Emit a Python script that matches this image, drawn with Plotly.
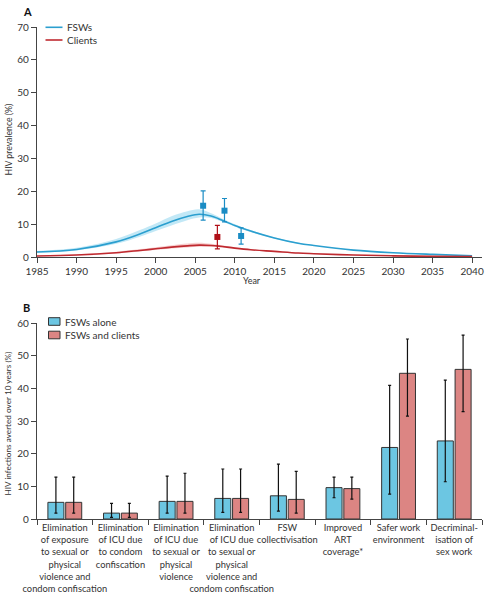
import plotly.graph_objects as go

# ---------------- Panel A data ----------------
years = [1985, 1990, 1995, 1998, 2000, 2002, 2004, 2005.5, 2007, 2008, 2010, 2012, 2015, 2018, 2020, 2025, 2030, 2035, 2040]
fsw_mid = [1.5, 2.3, 4.6, 7.0, 8.9, 10.8, 12.3, 13.0, 12.5, 11.6, 9.6, 7.9, 5.8, 4.2, 3.5, 2.1, 1.3, 0.8, 0.4]
fsw_hi = [1.8, 2.8, 5.5, 8.2, 10.2, 12.4, 13.9, 14.5, 13.3, 12.2, 10.0, 8.2, 6.0, 4.4, 3.6, 2.2, 1.35, 0.85, 0.45]
fsw_lo = [1.3, 2.0, 4.0, 6.2, 7.9, 9.6, 11.2, 12.0, 11.9, 11.1, 9.3, 7.6, 5.6, 4.0, 3.4, 2.0, 1.25, 0.75, 0.35]
cli_mid = [0.3, 0.6, 1.3, 2.0, 2.5, 3.0, 3.4, 3.6, 3.5, 3.3, 2.7, 2.2, 1.7, 1.2, 1.0, 0.6, 0.35, 0.2, 0.1]
cli_hi = [0.4, 0.8, 1.6, 2.4, 3.0, 3.6, 4.1, 4.3, 4.0, 3.7, 2.9, 2.4, 1.8, 1.3, 1.05, 0.65, 0.4, 0.25, 0.15]
cli_lo = [0.2, 0.5, 1.1, 1.7, 2.1, 2.6, 2.9, 3.1, 3.1, 3.0, 2.5, 2.1, 1.6, 1.1, 0.95, 0.55, 0.3, 0.15, 0.05]

fsw_obs_x = [2006.0, 2008.7, 2010.8]
fsw_obs_y = [15.6, 14.1, 6.4]
fsw_obs_hi = [20.1, 17.8, 8.9]
fsw_obs_lo = [11.2, 10.7, 3.9]
cli_obs_x = [2007.8]
cli_obs_y = [6.1]
cli_obs_hi = [9.6]
cli_obs_lo = [2.5]

series_a_names = ["FSWs", "Clients"]

# ---------------- Panel B data ----------------
categories = [
    "Elimination<br>of exposure<br>to sexual or<br>physical<br>violence and<br>condom confiscation",
    "Elimination<br>of ICU due<br>to condom<br>confiscation",
    "Elimination<br>of ICU due<br>to sexual or<br>physical<br>violence",
    "Elimination<br>of ICU due<br>to sexual or<br>physical<br>violence and<br>condom confiscation",
    "FSW<br>collectivisation",
    "Improved<br>ART<br>coverage*",
    "Safer work<br>environment",
    "Decriminal-<br>isation of<br>sex work",
]
alone_val = [5.1, 1.8, 5.4, 6.3, 7.1, 9.6, 21.9, 23.9]
alone_hi = [12.8, 4.8, 13.1, 15.3, 16.8, 12.8, 40.9, 42.5]
alone_lo = [1.8, 0.5, 1.8, 2.0, 2.4, 6.5, 7.6, 11.4]
both_val = [5.1, 1.8, 5.4, 6.3, 6.0, 9.3, 44.6, 45.8]
both_hi = [12.8, 4.8, 14.0, 15.3, 14.6, 12.8, 55.1, 56.3]
both_lo = [1.8, 0.5, 1.8, 2.0, 1.8, 6.1, 31.5, 32.9]

series_b_names = ["FSWs alone", "FSWs and clients"]

W, H = 486, 600
FONT = "Lato, 'Open Sans', sans-serif"
TXT = "#333333"
AX = "#444444"

BLUE_LINE = "#2b9fcf"
RED_LINE = "#bf2a30"
BLUE_PT = "#1a8cc4"
RED_PT = "#b01018"
BLUE_BAR = "#6cc6e2"
RED_BAR = "#dc8583"


def px(x):
    return x / W


def py(y):
    return 1 - y / H


fig = go.Figure()

# bands
fig.add_trace(go.Scatter(x=years, y=fsw_hi, mode="lines", line=dict(width=0, shape="spline"),
                         showlegend=False, hoverinfo="skip", xaxis="x", yaxis="y"))
fig.add_trace(go.Scatter(x=years, y=fsw_lo, mode="lines", line=dict(width=0, shape="spline"),
                         fill="tonexty", fillcolor="rgba(120,205,235,0.45)",
                         showlegend=False, hoverinfo="skip", xaxis="x", yaxis="y"))
fig.add_trace(go.Scatter(x=years, y=cli_hi, mode="lines", line=dict(width=0, shape="spline"),
                         showlegend=False, hoverinfo="skip", xaxis="x", yaxis="y"))
fig.add_trace(go.Scatter(x=years, y=cli_lo, mode="lines", line=dict(width=0, shape="spline"),
                         fill="tonexty", fillcolor="rgba(240,150,150,0.45)",
                         showlegend=False, hoverinfo="skip", xaxis="x", yaxis="y"))
# lines
fig.add_trace(go.Scatter(x=years, y=fsw_mid, mode="lines", name=series_a_names[0],
                         line=dict(color=BLUE_LINE, width=1.6, shape="spline"),
                         showlegend=False, xaxis="x", yaxis="y"))
fig.add_trace(go.Scatter(x=years, y=cli_mid, mode="lines", name=series_a_names[1],
                         line=dict(color=RED_LINE, width=1.6, shape="spline"),
                         showlegend=False, xaxis="x", yaxis="y"))
# observed points
fig.add_trace(go.Scatter(
    x=fsw_obs_x, y=fsw_obs_y, mode="markers", showlegend=False,
    marker=dict(symbol="square", size=6, color=BLUE_PT),
    error_y=dict(type="data", symmetric=False,
                 array=[h - v for h, v in zip(fsw_obs_hi, fsw_obs_y)],
                 arrayminus=[v - l for l, v in zip(fsw_obs_lo, fsw_obs_y)],
                 color=BLUE_PT, thickness=1.2, width=2.5),
    xaxis="x", yaxis="y"))
fig.add_trace(go.Scatter(
    x=cli_obs_x, y=cli_obs_y, mode="markers", showlegend=False,
    marker=dict(symbol="square", size=6, color=RED_PT),
    error_y=dict(type="data", symmetric=False,
                 array=[h - v for h, v in zip(cli_obs_hi, cli_obs_y)],
                 arrayminus=[v - l for l, v in zip(cli_obs_lo, cli_obs_y)],
                 color=RED_PT, thickness=1.2, width=2.5),
    xaxis="x", yaxis="y"))

# bars
fig.add_trace(go.Bar(
    x=categories, y=alone_val, name=series_b_names[0], showlegend=False,
    marker=dict(color=BLUE_BAR, line=dict(color="#333333", width=1)),
    error_y=dict(type="data", symmetric=False,
                 array=[h - v for h, v in zip(alone_hi, alone_val)],
                 arrayminus=[v - l for l, v in zip(alone_lo, alone_val)],
                 color="#111111", thickness=1.2, width=1.5),
    xaxis="x2", yaxis="y2"))
fig.add_trace(go.Bar(
    x=categories, y=both_val, name=series_b_names[1], showlegend=False,
    marker=dict(color=RED_BAR, line=dict(color="#333333", width=1)),
    error_y=dict(type="data", symmetric=False,
                 array=[h - v for h, v in zip(both_hi, both_val)],
                 arrayminus=[v - l for l, v in zip(both_lo, both_val)],
                 color="#111111", thickness=1.2, width=1.5),
    xaxis="x2", yaxis="y2"))


def axis_style(font_size=10):
    return dict(showline=True, linecolor=AX, linewidth=1.2, ticks="outside",
                tickcolor=AX, ticklen=5, tickwidth=1.2, showgrid=False, zeroline=False,
                automargin=False, tickangle=0,
                tickfont=dict(family=FONT, size=font_size, color=TXT))


# manual legends (swatches + labels)
shapes = []
annotations = []
leg_a_colors = [BLUE_LINE, RED_LINE]
leg_a_y = [27.3, 40.0]
for name, col, yy in zip(series_a_names, leg_a_colors, leg_a_y):
    shapes.append(dict(type="line", xref="paper", yref="paper",
                       x0=px(45.5), x1=px(62.5), y0=py(yy), y1=py(yy),
                       line=dict(color=col, width=1.6)))
    annotations.append(dict(text=name, x=px(64.5), y=py(yy), xref="paper", yref="paper",
                            showarrow=False, xanchor="left", yanchor="middle",
                            font=dict(family=FONT, size=10, color=TXT)))
leg_b_colors = [BLUE_BAR, RED_BAR]
leg_b_y = [321.5, 335.0]
for name, col, yy in zip(series_b_names, leg_b_colors, leg_b_y):
    shapes.append(dict(type="rect", xref="paper", yref="paper",
                       x0=px(48.5), x1=px(60), y0=py(yy - 3.8), y1=py(yy + 3.8),
                       fillcolor=col, line=dict(color="#333333", width=1)))
    annotations.append(dict(text=name, x=px(62.5), y=py(yy), xref="paper", yref="paper",
                            showarrow=False, xanchor="left", yanchor="middle",
                            font=dict(family=FONT, size=10, color=TXT)))

annotations += [
    dict(text="<b>A</b>", x=px(21), y=py(11.5), xref="paper", yref="paper",
         showarrow=False, xanchor="left", yanchor="middle",
         font=dict(family=FONT, size=11, color="#111111")),
    dict(text="<b>B</b>", x=px(21), y=py(307.5), xref="paper", yref="paper",
         showarrow=False, xanchor="left", yanchor="middle",
         font=dict(family=FONT, size=11, color="#111111")),
    dict(text="HIV prevalence (%)", x=px(7.5), y=py(140), xref="paper", yref="paper",
         showarrow=False, textangle=-90, xanchor="center", yanchor="middle",
         font=dict(family=FONT, size=8.7, color=TXT)),
    dict(text="Year", x=px(252), y=py(280.5), xref="paper", yref="paper",
         showarrow=False, xanchor="center", yanchor="middle",
         font=dict(family=FONT, size=9, color=TXT)),
    dict(text="HIV infections averted over 10 years (%)", x=px(7.5), y=py(424),
         xref="paper", yref="paper", showarrow=False, textangle=-90,
         xanchor="center", yanchor="middle",
         font=dict(family=FONT, size=8.2, color=TXT)),
]

fig.update_layout(
    width=W, height=H,
    margin=dict(l=0, r=0, t=0, b=0),
    paper_bgcolor="white", plot_bgcolor="white",
    font=dict(family=FONT, size=10, color=TXT),
    showlegend=False,
    barmode="group", bargap=0.36, bargroupgap=0.1,
    xaxis=dict(domain=[px(37), px(482)], range=[1985, 2041.25], tick0=1985, dtick=5,
               anchor="y", **axis_style(10)),
    yaxis=dict(domain=[py(257), py(27)], range=[0, 70], dtick=10,
               anchor="x", **axis_style(10)),
    xaxis2=dict(domain=[px(37), px(482)], range=[-0.5, 7.5], type="category",
                tickson="boundaries", anchor="y2", **axis_style(9.3)),
    yaxis2=dict(domain=[py(519), py(323)], range=[0, 60], dtick=10,
                anchor="x2", **axis_style(10)),
    shapes=shapes,
    annotations=annotations,
)

fig.write_html(
    "out.html",
    config={"displayModeBar": False},
    post_script="document.body.style.margin='0';document.body.style.padding='0';"
                "document.body.style.overflow='hidden';",
)
